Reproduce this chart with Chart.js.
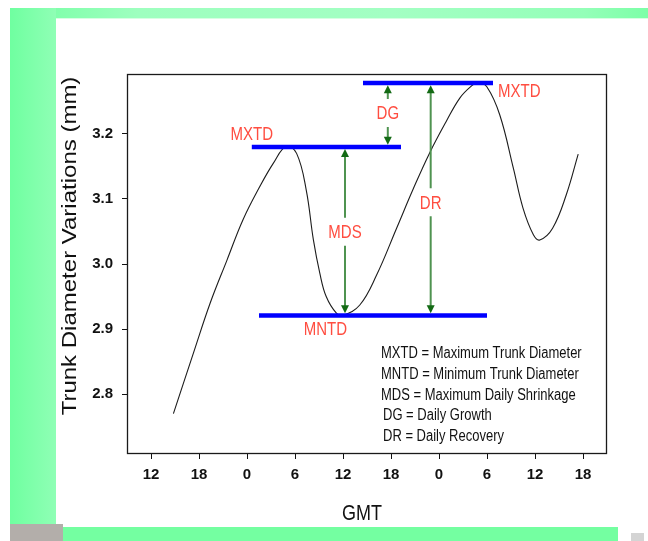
<!DOCTYPE html>
<html>
<head>
<meta charset="utf-8">
<script src="https://cdn.jsdelivr.net/npm/chart.js@4/dist/chart.umd.min.js"></script>
<style>
  html, body { margin: 0; padding: 0; background: #ffffff; }
  body { width: 648px; height: 541px; position: relative; overflow: hidden; }
  .band { position: absolute; }
  #topBand { left: 10px; top: 8px; width: 638px; height: 10px;
    background: linear-gradient(to right, #72ffa1 0%, #9effbf 20%, #a3ffc3 60%, #94ffb8 90%, #7cffa7 100%); }
  #topLine { left: 55px; top: 18px; width: 593px; height: 1px; background: #d6ffe2; }
  #leftBand { left: 10px; top: 8px; width: 46px; height: 516px;
    background: linear-gradient(to right, #6fffa0 0%, #8fffb5 100%); }
  #grayBox { left: 10px; top: 524px; width: 53px; height: 17px; background: #b3aeaa; }
  #bottomBand { left: 63px; top: 527px; width: 555px; height: 14px; background: #74ffa1; }
  #icon { left: 631px; top: 533px; width: 13px; height: 8px; background: #d4d4d4; }
  #c { position: absolute; left: 0; top: 0; }
</style>
</head>
<body>
<div class="band" id="topBand"></div>
<div class="band" id="topLine"></div>
<div class="band" id="leftBand"></div>
<div class="band" id="grayBox"></div>
<div class="band" id="bottomBand"></div>
<div class="band" id="icon"></div>
<canvas id="c" width="648" height="541"></canvas>
<script>
// ---------- data (hours, GMT, continuous across days) ----------
const xHours = [14.8, 17.3, 19.4, 21.5, 23.5, 25.6, 27.3, 28.9, 30.2, 31.4, 32.3, 33.1, 33.9, 35.2, 36.0,
                38.1, 40.2, 42.7, 44.8, 46.8, 48.9, 50.6, 52.0, 52.9, 54.0, 55.6, 57.3, 58.5, 59.8, 60.6,
                62.2, 63.9, 65.4];
const diameterMM = [2.770, 2.863, 2.940, 3.006, 3.068, 3.119, 3.155, 3.181, 3.170, 3.114, 3.037, 2.986, 2.950, 2.924, 2.921,
                    2.937, 2.983, 3.055, 3.116, 3.170, 3.219, 3.255, 3.273, 3.279, 3.272, 3.229, 3.147, 3.086, 3.045, 3.037,
                    3.055, 3.106, 3.169];

const xTickValues = [12, 18, 24, 30, 36, 42, 48, 54, 60, 66];
const xTickLabels = ['12', '18', '0', '6', '12', '18', '0', '6', '12', '18'];
const yTickValues = [2.8, 2.9, 3.0, 3.1, 3.2];

// reference levels
const mxtd1Level = 3.180;
const mxtd2Level = 3.278;
const mntdLevel = 2.921;
const mxtd1Span = [24.6, 43.25];
const mxtd2Span = [38.5, 54.75];
const mntdSpan = [25.5, 54.0];

// arrows (hour position)
const mdsHour = 36.25;
const drHour = 46.96;
const dgHour = 41.6;

const legendLines = [
  'MXTD = Maximum Trunk Diameter',
  'MNTD = Minimum Trunk Diameter',
  'MDS = Maximum Daily Shrinkage',
  'DG = Daily Growth',
  'DR = Daily Recovery'
];

// ---------- helpers ----------
const SY = 1.2; // vertical stretch of the original picture
const RED = '#ff4d40';
const FONT = '"Liberation Sans", Arial, sans-serif';

function stretchText(ctx, text, x, capCenterY, size, color, align, weight) {
  const baseline = capCenterY + 0.358 * size * SY;
  ctx.save();
  ctx.translate(x, baseline);
  ctx.scale(1, SY);
  ctx.font = (weight || 'normal') + ' ' + size + 'px ' + FONT;
  ctx.fillStyle = color;
  ctx.textAlign = align || 'center';
  ctx.textBaseline = 'alphabetic';
  ctx.fillText(text, 0, 0);
  ctx.restore();
}

function arrowSeg(ctx, x, yFrom, yTo) {
  const dir = yTo > yFrom ? 1 : -1;
  const headLen = 8, headHalf = 4;
  ctx.save();
  ctx.strokeStyle = '#4f9350';
  ctx.lineWidth = 2;
  ctx.beginPath();
  ctx.moveTo(x, yFrom);
  ctx.lineTo(x, yTo - dir * headLen + dir);
  ctx.stroke();
  ctx.fillStyle = '#136a14';
  ctx.beginPath();
  ctx.moveTo(x, yTo);
  ctx.lineTo(x - headHalf, yTo - dir * headLen);
  ctx.lineTo(x + headHalf, yTo - dir * headLen);
  ctx.closePath();
  ctx.fill();
  ctx.restore();
}

const annotPlugin = {
  id: 'annot',
  afterDatasetsDraw(chart) {
    const ctx = chart.ctx;
    const xs = chart.scales.x, ys = chart.scales.y;
    const ca = chart.chartArea;
    const gap = 14;
    const edge = 2.2;

    // MDS arrow (between MXTD1 and MNTD)
    {
      const x = xs.getPixelForValue(mdsHour);
      const yTop = ys.getPixelForValue(mxtd1Level) + edge;
      const yBot = ys.getPixelForValue(mntdLevel) - edge;
      const yc = ys.getPixelForValue((mxtd1Level + mntdLevel) / 2) + 0.5;
      arrowSeg(ctx, x, yc - gap, yTop);
      arrowSeg(ctx, x, yc + gap, yBot);
      stretchText(ctx, 'MDS', x, yc, 15, RED, 'center');
    }
    // DR arrow (between MNTD and MXTD2)
    {
      const x = xs.getPixelForValue(drHour);
      const yTop = ys.getPixelForValue(mxtd2Level) + edge;
      const yBot = ys.getPixelForValue(mntdLevel) - edge;
      const yc = ys.getPixelForValue((mxtd2Level + mntdLevel) / 2) + 3;
      arrowSeg(ctx, x, yc - gap, yTop);
      arrowSeg(ctx, x, yc + gap, yBot);
      stretchText(ctx, 'DR', x, yc, 15, RED, 'center');
    }
    // DG arrow (outward arrows touching MXTD2 and MXTD1)
    {
      const x = xs.getPixelForValue(dgHour);
      const yTop = ys.getPixelForValue(mxtd2Level) + edge;
      const yBot = ys.getPixelForValue(mxtd1Level) - edge;
      const yc = ys.getPixelForValue((mxtd2Level + mxtd1Level) / 2) - 2;
      arrowSeg(ctx, x, yc - gap, yTop);
      arrowSeg(ctx, x, yc + gap, yBot);
      stretchText(ctx, 'DG', x, yc, 15, RED, 'center');
    }
    // level labels
    stretchText(ctx, 'MXTD', xs.getPixelForValue(mxtd1Span[0]), ys.getPixelForValue(mxtd1Level) - 13, 15, RED, 'center');
    stretchText(ctx, 'MXTD', xs.getPixelForValue(mxtd2Span[1]) + 5, ys.getPixelForValue(mxtd2Level) + 7, 15, RED, 'left');
    stretchText(ctx, 'MNTD', xs.getPixelForValue(33.8), ys.getPixelForValue(mntdLevel) + 13.3, 15, RED, 'center');

    // legend text
    const legX = [381, 381, 381, 383, 383];
    legendLines.forEach((t, i) => {
      stretchText(ctx, t, legX[i], 352.5 + i * 20.8, 13, '#111', 'left');
    });

    // frame box
    ctx.save();
    ctx.strokeStyle = '#1a1a1a';
    ctx.lineWidth = 1.3;
    ctx.strokeRect(ca.left + 0.5, ca.top + 0.5, ca.right - ca.left - 1, ca.bottom - ca.top - 1);
    ctx.restore();

    // axis titles
    ctx.save();
    ctx.translate(70, 246);
    ctx.rotate(-Math.PI / 2);
    ctx.scale(SY, 1);
    ctx.font = '20px ' + FONT;
    ctx.fillStyle = '#111';
    ctx.textAlign = 'center';
    ctx.textBaseline = 'middle';
    ctx.fillText('Trunk Diameter Variations (mm)', 0, 0);
    ctx.restore();

    stretchText(ctx, 'GMT', 362, 512, 18, '#111', 'center');
  }
};

const lineDs = (pts, color, width, order) => ({
  data: pts, borderColor: color, borderWidth: width, pointRadius: 0,
  tension: 0, fill: false, borderCapStyle: 'butt', order: order
});

new Chart(document.getElementById('c'), {
  type: 'line',
  data: {
    datasets: [
      {
        data: xHours.map((h, i) => ({ x: h, y: diameterMM[i] })),
        borderColor: '#1c1c1c', borderWidth: 1.1, pointRadius: 0,
        tension: 0.4, cubicInterpolationMode: 'default', fill: false, order: 2
      },
      lineDs([{ x: mxtd1Span[0], y: mxtd1Level }, { x: mxtd1Span[1], y: mxtd1Level }], '#0000ff', 4.5, 1),
      lineDs([{ x: mxtd2Span[0], y: mxtd2Level }, { x: mxtd2Span[1], y: mxtd2Level }], '#0000ff', 4.5, 1),
      lineDs([{ x: mntdSpan[0], y: mntdLevel }, { x: mntdSpan[1], y: mntdLevel }], '#0000ff', 4.5, 1)
    ]
  },
  options: {
    responsive: false,
    animation: false,
    devicePixelRatio: 1,
    events: [],
    layout: { padding: { top: 74, right: 41, left: 0, bottom: 0 } },
    plugins: { legend: { display: false }, tooltip: { enabled: false } },
    scales: {
      x: {
        type: 'linear', min: 9, max: 69,
        afterBuildTicks: s => { s.ticks = xTickValues.map(v => ({ value: v })); },
        afterFit: s => { s.height = 87; },
        grid: { display: true, drawOnChartArea: false, drawTicks: true, tickLength: 5, color: '#111', lineWidth: 1 },
        border: { display: false },
        ticks: {
          autoSkip: false, maxRotation: 0, minRotation: 0, padding: 7,
          color: '#111', font: { family: FONT, size: 15, weight: 'bold' },
          callback: v => xTickLabels[xTickValues.indexOf(v)]
        }
      },
      y: {
        type: 'linear', min: 2.708, max: 3.292,
        afterBuildTicks: s => { s.ticks = yTickValues.map(v => ({ value: v })); },
        afterFit: s => { s.width = 127; },
        grid: { display: true, drawOnChartArea: false, drawTicks: true, tickLength: 5, color: '#111', lineWidth: 1 },
        border: { display: false },
        ticks: {
          padding: 9, color: '#111', font: { family: FONT, size: 15, weight: 'bold' },
          callback: v => Number(v).toFixed(1)
        }
      }
    }
  },
  plugins: [annotPlugin]
});
</script>
</body>
</html>
